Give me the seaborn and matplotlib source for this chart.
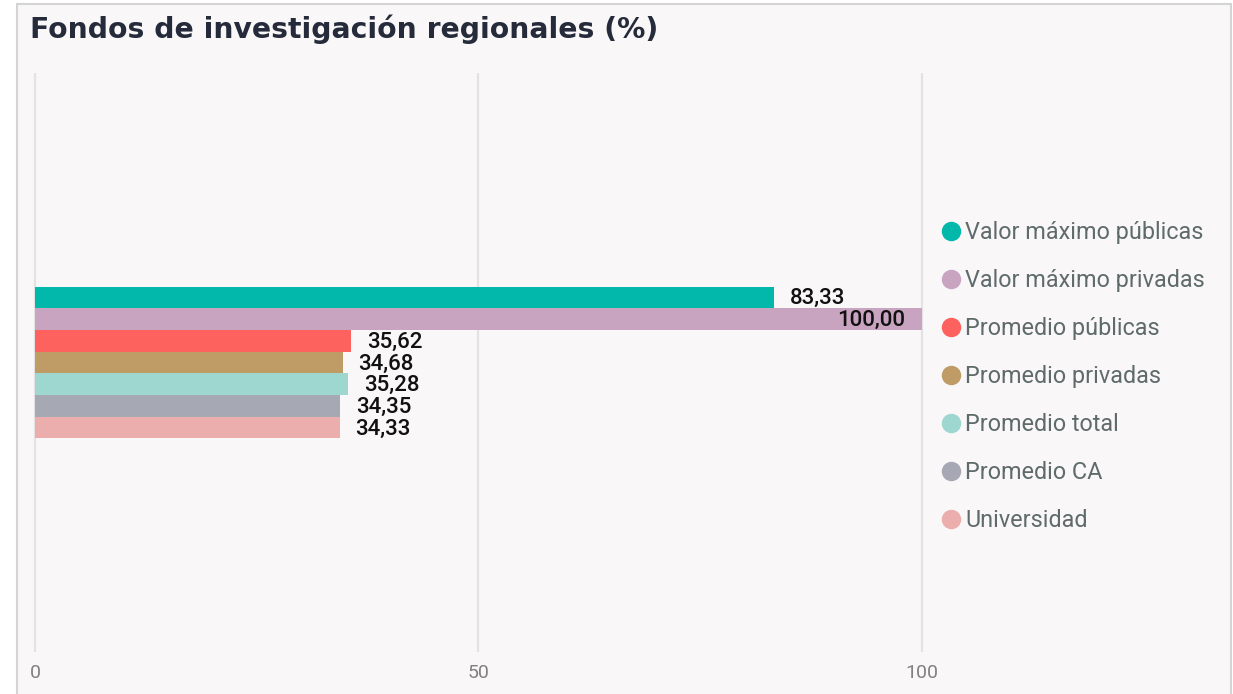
import matplotlib
matplotlib.use("Agg")
import matplotlib.pyplot as plt
from matplotlib.patches import Rectangle
from matplotlib.lines import Line2D
import seaborn as sns
import pandas as pd

# Series shown in the chart, their values (%) and colours
series = ["Valor máximo públicas", "Valor máximo privadas", "Promedio públicas",
          "Promedio privadas", "Promedio total", "Promedio CA", "Universidad"]
values = [83.33, 100.00, 35.62, 34.68, 35.28, 34.35, 34.33]
colors = ["#01b8aa", "#c8a4c1", "#fd625e", "#bf9c65", "#9dd7d0", "#a6a9b4", "#ecadad"]
x_ticks = [0, 50, 100]
title = "Fondos de investigación regionales (%)"

df = pd.DataFrame({"grupo": ["Fondos"] * len(series), "serie": series, "valor": values})

sns.set_theme(style="white")
plt.rcParams["font.family"] = ["Roboto", "DejaVu Sans"]

W, H = 1233, 694
fig = plt.figure(figsize=(W / 100, H / 100), dpi=100, facecolor="white")

# Card background with a thin grey border
fig.patches.append(Rectangle((17 / W, -0.02), (1231 - 17) / W, (H - 4) / H + 0.02,
                             transform=fig.transFigure, facecolor="#f9f7f8",
                             edgecolor="#d4d4d4", linewidth=1.5, zorder=-10))

ax = fig.add_axes([30.6 / W, (H - 652) / H, (926.4 - 30.6) / W, (652 - 73) / H])
ax.set_facecolor("none")

sns.barplot(data=df, x="valor", y="grupo", hue="serie", hue_order=series,
            palette=colors, saturation=1, width=0.2625, orient="h",
            linewidth=0, legend=False, ax=ax, zorder=2)

ax.set_xlim(-0.5, 100.5)
ax.set_ylim(0.5, -0.5)
ax.set_xticks(x_ticks)
ax.set_xticklabels([str(t) for t in x_ticks])
ax.set_yticks([])
ax.set_xlabel("")
ax.set_ylabel("")
ax.tick_params(axis="x", length=0, pad=9, labelsize=14, labelcolor="#808080")
ax.grid(axis="x", color="#e4e2e3", linewidth=1.6, zorder=0)
ax.set_axisbelow(True)
for s in ax.spines.values():
    s.set_visible(False)

# Value labels at the end of each bar
for cont, v in zip(ax.containers, values):
    bar = cont[0]
    yc = bar.get_y() + bar.get_height() / 2
    end = bar.get_x() + bar.get_width()
    txt = f"{v:.2f}".replace(".", ",")
    if v >= 95:
        ax.annotate(txt, xy=(end, yc), xytext=(-12, -1), textcoords="offset points",
                    ha="right", va="center", fontsize=16, fontweight="medium",
                    color="#111111", zorder=3)
    else:
        ax.annotate(txt, xy=(end, yc), xytext=(11.5, -1), textcoords="offset points",
                    ha="left", va="center", fontsize=16, fontweight="medium",
                    color="#111111", zorder=3)

fig.text(30 / W, (H - 29) / H, title, ha="left", va="center", fontsize=20.3,
         fontweight="bold", color="#252b3a", family=["DejaVu Sans"])

handles = [Line2D([0], [0], marker="o", linestyle="", markersize=13,
                  markerfacecolor=c, markeredgecolor=c) for c in colors]
fig.legend(handles, series, loc="upper left", bbox_to_anchor=(940 / W, (H - 221) / H),
           frameon=False, fontsize=16.8, labelcolor="#5f6a6a", handlelength=0.9,
           handletextpad=0.17, labelspacing=1.07, borderaxespad=0, borderpad=0)

fig.savefig("out.png", dpi=100, facecolor="white")
